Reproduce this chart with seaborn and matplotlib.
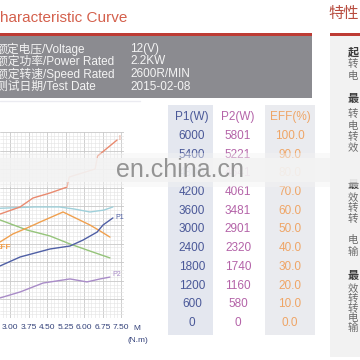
"""
Motor characteristic curve card (spec header, curve chart, scale table).
"""
import matplotlib
matplotlib.use('Agg')
import matplotlib.pyplot as plt
import seaborn as sns
import numpy as np
from matplotlib.patches import Rectangle

sns.set_style("white")
plt.rcParams['font.family'] = ['Liberation Sans', 'Noto Sans CJK SC', 'DejaVu Sans']

# Spec header
spec_names = ['额定电压/Voltage', '额定功率/Power Rated', '额定转速/Speed Rated', '测试日期/Test Date']
spec_values = ['12(V)', '2.2KW', '2600R/MIN', '2015-02-08']

# Scale table
table_headers = ['P1(W)', 'P2(W)', 'EFF(%)']
p1_scale = [6000, 5400, 4800, 4200, 3600, 3000, 2400, 1800, 1200, 600, 0]
p2_scale = [5801, 5221, 4641, 4061, 3481, 2901, 2320, 1740, 1160, 580, 0]
eff_scale = [100.0, 90.0, 80.0, 70.0, 60.0, 50.0, 40.0, 30.0, 20.0, 10.0, 0.0]

# Curves (torque in N.m, value in % of scale)
torque_ticks = [3.00, 3.75, 4.50, 5.25, 6.00, 6.75, 7.50]

i_x = [2.60, 3.41, 3.93, 4.62, 5.31, 5.40, 6.45, 6.55, 7.34]
i_y = [55.9, 59.7, 64.5, 67.2, 70.4, 75.8, 80.1, 87.1, 95.7]

n_x = [2.60, 4.00, 5.00, 5.60, 6.24, 6.80, 7.17]
n_y = [59.0, 59.7, 59.7, 58.6, 57.0, 58.0, 59.7]

eff_x = [2.60, 3.12, 3.69, 4.22, 5.15, 6.24, 6.65, 7.05]
eff_y = [40.9, 45.2, 48.4, 51.6, 57.0, 50.0, 46.8, 43.5]

m_x = [2.60, 3.69, 4.62, 5.43, 6.24, 7.05]
m_y = [52.7, 47.3, 44.1, 39.8, 36.0, 32.3]

p1_x = [2.60, 3.41, 4.62, 5.43, 5.96, 6.53, 6.77, 7.17]
p1_y = [28.0, 32.8, 37.1, 38.7, 41.9, 46.2, 50.0, 53.8]

p2_x = [2.60, 3.41, 4.34, 5.43, 6.12, 6.65, 7.05]
p2_y = [10.8, 14.0, 18.8, 21.0, 19.4, 21.0, 22.0]

# Right side notes (first characters only visible)
note_chars = ['起', '转', '电', '最', '转', '电', '转', '效', '最', '效', '转', '转', '电', '输',
              '最', '效', '转', '转', '电', '输']
note_bold = [1, 0, 0, 1, 0, 0, 0, 0, 1, 0, 0, 0, 0, 0, 1, 0, 0, 0, 0, 0]
note_rows = [52, 64, 76, 99, 114, 126, 137, 148, 185, 198, 208, 219, 240, 252,
             276, 289, 299, 309, 318, 328]

RED = '#bd3b34'
NAVY = '#4a5898'
PINK = '#b463a8'
ORANGE = '#efa566'

fig = plt.figure(figsize=(3.6, 3.6), dpi=100)

# page layer in pixel coordinates
bg = fig.add_axes([0, 0, 1, 1], zorder=0)
bg.set_xlim(0, 360)
bg.set_ylim(360, 0)
bg.axis('off')

bg.text(-11, 18.5, 'Characteristic Curve', color='#d4604c', fontsize=11, va='center', ha='left')
bg.text(328, 14, '特性', color='#b84c3f', fontsize=11, va='center', ha='left')

bg.add_patch(Rectangle((0, 33), 312, 3, color=RED, lw=0))
bg.add_patch(Rectangle((0, 36), 312, 62, color='#8b8b90', lw=0))
bg.add_patch(Rectangle((330, 33), 30, 3, color=RED, lw=0))
bg.add_patch(Rectangle((330, 36), 30, 321, color='#f2f2f2', lw=0))

for k, (name, val) in enumerate(zip(spec_names, spec_values)):
    y = 49 + k * 12.5
    bg.text(-4, y, name, color='#f4f4f4', fontsize=8.5, va='center', ha='left')
    bg.text(130, y, val, color='#f4f4f4', fontsize=8.5, va='center', ha='left')

bg.plot([0, 140], [101, 101], color='#ebebf1', lw=1)

# table columns
bg.add_patch(Rectangle((168, 105), 45, 230, color='#e4e7ef', lw=0))
bg.add_patch(Rectangle((265, 105), 50, 230, color='#eaebef', lw=0))
col_x = [192, 238, 290]
col_colors = [NAVY, PINK, ORANGE]
for cx, head, colr in zip(col_x, table_headers, col_colors):
    bg.text(cx, 117, head, color=colr, fontsize=8.5, ha='center', va='center')
for r in range(len(p1_scale)):
    y = 136 + r * 18.7
    bg.text(col_x[0], y, f'{p1_scale[r]}', color=NAVY, fontsize=8.5, ha='center', va='center')
    bg.text(col_x[1], y, f'{p2_scale[r]}', color=PINK, fontsize=8.5, ha='center', va='center')
    bg.text(col_x[2], y, f'{eff_scale[r]:.1f}', color=ORANGE, fontsize=8.5, ha='center', va='center')

for ch, b, y in zip(note_chars, note_bold, note_rows):
    bg.text(348, y, ch, fontsize=7.5 if not b else 8,
            fontweight='bold' if b else 'normal',
            color='#3c3c3c' if b else '#6a6a6a', va='center', ha='left')

bg.text(133, 328, 'M', color='#34427a', fontsize=6, va='center', ha='left')
bg.text(127, 341, '(N.m)', color='#34427a', fontsize=6, va='center', ha='left')

# chart
ax = fig.add_axes([0, 1 - 318 / 360, 124 / 360, 186 / 360], zorder=2)
ax.set_facecolor('white')
ax.set_xlim(2.595, 7.62)
ax.set_ylim(0, 100)
ax.set_xticks(torque_ticks)
ax.set_xticklabels([f'{t:.2f}' for t in torque_ticks])
ax.set_xticks(np.arange(2.70, 7.62, 0.15), minor=True)
ax.set_yticks(np.arange(0, 101, 10))
ax.set_yticks(np.arange(0, 101, 2), minor=True)
ax.set_yticklabels([])
ax.grid(which='major', color='#c8c8c8', lw=0.6)
ax.grid(which='minor', color='#e4e4e4', lw=0.4)
ax.set_axisbelow(True)
ax.tick_params(which='both', length=0)
ax.tick_params(axis='x', labelsize=6, colors='#34427a', pad=4)
for s in ax.spines.values():
    s.set_visible(False)

lw = 1.0
sns.lineplot(x=n_x, y=n_y, ax=ax, color='#9fd0da', lw=lw, sort=False)
sns.lineplot(x=m_x, y=m_y, ax=ax, color='#95c47a', lw=lw, sort=False)
sns.lineplot(x=eff_x, y=eff_y, ax=ax, color='#f0a04e', lw=lw, sort=False)
sns.lineplot(x=i_x, y=i_y, ax=ax, color='#e98a6f', lw=lw, sort=False)
sns.lineplot(x=p1_x, y=p1_y, ax=ax, color='#4f5fa5', lw=lw, sort=False)
sns.lineplot(x=p2_x, y=p2_y, ax=ax, color='#a98cc8', lw=lw, sort=False)
ax.set_xlabel('')
ax.set_ylabel('')

ax.annotate('P1', (p1_x[-1], p1_y[-1]), xytext=(2, 0), textcoords='offset points',
            fontsize=5, color='#4f5fa5', va='center')
ax.annotate('P2', (p2_x[-1], p2_y[-1]), xytext=(2, 2), textcoords='offset points',
            fontsize=5, color='#a98cc8', va='center')
ax.annotate('I', (i_x[-1], i_y[-1]), xytext=(1, 1), textcoords='offset points',
            fontsize=5, color='#e98a6f', va='center')
ax.annotate('EFF', (eff_x[0], eff_y[0]), xytext=(8, -4), textcoords='offset points',
            fontsize=6, color='#f0a04e', va='center', ha='right', fontweight='bold')

# watermark band
top = fig.add_axes([0, 0, 1, 1], zorder=10)
top.set_xlim(0, 360)
top.set_ylim(360, 0)
top.axis('off')
top.patch.set_alpha(0)
top.add_patch(Rectangle((0, 153), 360, 34, color='#f3f3f3', alpha=0.45, lw=0))
top.add_patch(Rectangle((0, 158), 360, 24, color='#f3f3f3', alpha=0.85, lw=0))
top.text(180, 170, 'en.china.cn', color='#8a8a8a', fontsize=18, ha='center', va='center', alpha=0.9)

fig.savefig('out.png', dpi=100)
plt.close()
